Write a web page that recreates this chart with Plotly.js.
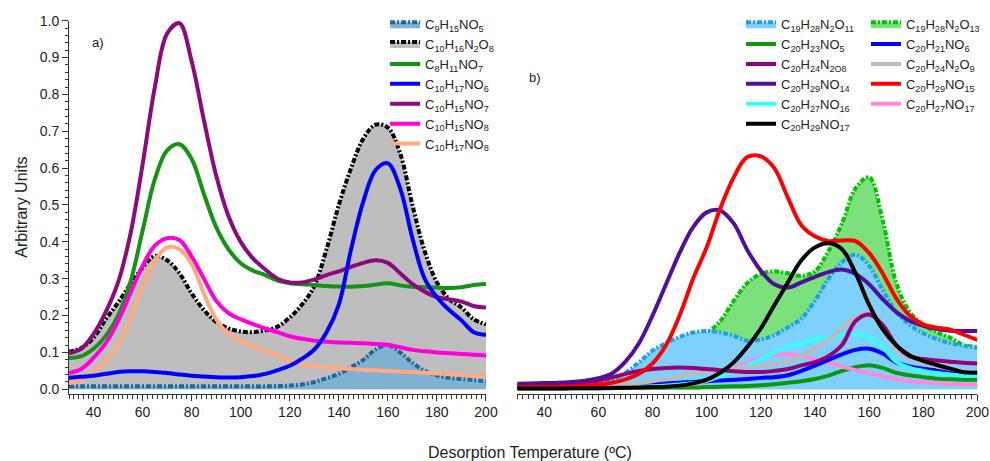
<!DOCTYPE html>
<html>
<head>
<meta charset="utf-8">
<script src="https://cdn.plot.ly/plotly-3.0.1.min.js"></script>
<style>html,body{margin:0;padding:0;background:#fff}#chart{width:990px;height:461px}</style>
</head>
<body>
<div id="chart"></div>
<script>
// Desorption temperature grid (ºC)
const temps = [30,35,40,45,50,55,60,65,70,75,80,85,90,95,100,105,110,115,120,125,130,135,140,145,150,155,160,165,170,175,180,185,190,195,200];

// ---- Panel a) ----
const a_C9H15NO5   = [0.008,0.008,0.008,0.008,0.008,0.008,0.008,0.008,0.008,0.008,0.008,0.008,0.008,0.008,0.008,0.008,0.008,0.009,0.010,0.013,0.020,0.030,0.042,0.060,0.080,0.108,0.120,0.100,0.072,0.050,0.038,0.031,0.028,0.025,0.022];
const a_C10H16N2O8 = [0.102,0.112,0.140,0.190,0.235,0.285,0.330,0.362,0.350,0.315,0.260,0.215,0.183,0.165,0.157,0.155,0.160,0.170,0.195,0.230,0.280,0.380,0.500,0.600,0.680,0.718,0.710,0.640,0.500,0.375,0.290,0.245,0.222,0.190,0.176];
const a_C8H11NO7   = [0.085,0.090,0.110,0.145,0.200,0.290,0.430,0.570,0.648,0.665,0.625,0.530,0.440,0.380,0.342,0.322,0.310,0.295,0.288,0.285,0.283,0.280,0.279,0.278,0.280,0.284,0.288,0.282,0.278,0.277,0.276,0.275,0.277,0.283,0.286];
const a_C10H17NO6  = [0.031,0.034,0.037,0.042,0.047,0.049,0.049,0.047,0.044,0.040,0.037,0.035,0.033,0.032,0.033,0.036,0.042,0.052,0.064,0.083,0.108,0.155,0.230,0.380,0.510,0.595,0.613,0.545,0.410,0.300,0.250,0.215,0.187,0.155,0.148];
const a_C10H15NO7  = [0.098,0.110,0.150,0.210,0.290,0.420,0.610,0.820,0.965,0.993,0.890,0.730,0.580,0.470,0.400,0.355,0.325,0.300,0.290,0.290,0.298,0.310,0.320,0.332,0.343,0.350,0.343,0.315,0.286,0.265,0.250,0.244,0.238,0.226,0.222];
const a_C10H15NO8  = [0.044,0.055,0.085,0.125,0.185,0.260,0.335,0.390,0.410,0.405,0.360,0.300,0.240,0.207,0.190,0.177,0.165,0.155,0.144,0.137,0.132,0.129,0.127,0.126,0.125,0.123,0.121,0.114,0.107,0.103,0.100,0.098,0.096,0.094,0.092];
const a_C10H17NO8  = [0.017,0.025,0.048,0.078,0.120,0.190,0.280,0.350,0.385,0.380,0.340,0.260,0.190,0.150,0.130,0.117,0.104,0.092,0.077,0.068,0.063,0.060,0.057,0.055,0.053,0.051,0.050,0.048,0.047,0.045,0.043,0.041,0.039,0.037,0.036];

// ---- Panel b) ----
const b_C19H28N2O11 = [0.010,0.010,0.011,0.012,0.014,0.017,0.020,0.026,0.045,0.073,0.105,0.125,0.142,0.154,0.158,0.154,0.145,0.132,0.135,0.147,0.168,0.192,0.240,0.300,0.345,0.365,0.335,0.270,0.210,0.175,0.152,0.137,0.125,0.118,0.113];
const b_C19H28N2O13 = [0.010,0.010,0.011,0.012,0.013,0.015,0.018,0.022,0.030,0.045,0.065,0.090,0.115,0.135,0.152,0.185,0.240,0.288,0.313,0.320,0.315,0.308,0.320,0.375,0.450,0.545,0.575,0.460,0.290,0.210,0.175,0.155,0.140,0.120,0.115];
const b_C20H23NO5   = [0.002,0.002,0.002,0.002,0.003,0.003,0.003,0.003,0.004,0.004,0.004,0.005,0.005,0.005,0.006,0.007,0.008,0.009,0.011,0.014,0.018,0.022,0.028,0.037,0.050,0.060,0.065,0.058,0.045,0.038,0.033,0.029,0.027,0.026,0.026];
const b_C20H21NO6   = [0.004,0.004,0.004,0.005,0.005,0.006,0.008,0.010,0.011,0.013,0.014,0.016,0.018,0.020,0.022,0.024,0.026,0.028,0.031,0.033,0.038,0.050,0.064,0.080,0.095,0.107,0.110,0.097,0.073,0.062,0.056,0.052,0.049,0.046,0.045];
const b_C20H24N2O8  = [0.008,0.009,0.010,0.011,0.013,0.017,0.024,0.032,0.042,0.050,0.055,0.058,0.059,0.058,0.055,0.052,0.049,0.047,0.047,0.050,0.055,0.065,0.074,0.090,0.120,0.185,0.203,0.175,0.120,0.090,0.082,0.078,0.075,0.072,0.070];
const b_C20H24N2O9  = [0.005,0.006,0.007,0.008,0.009,0.010,0.011,0.012,0.013,0.017,0.022,0.028,0.036,0.043,0.048,0.052,0.056,0.060,0.063,0.068,0.076,0.090,0.110,0.135,0.165,0.195,0.205,0.165,0.110,0.085,0.072,0.062,0.055,0.049,0.045];
const b_C20H29NO14  = [0.015,0.016,0.017,0.018,0.020,0.023,0.030,0.043,0.075,0.125,0.200,0.285,0.370,0.440,0.480,0.485,0.450,0.378,0.322,0.285,0.276,0.290,0.305,0.318,0.325,0.313,0.285,0.245,0.210,0.186,0.172,0.164,0.159,0.158,0.158];
const b_C20H29NO15  = [0.005,0.006,0.006,0.007,0.008,0.010,0.013,0.018,0.027,0.042,0.070,0.120,0.200,0.300,0.385,0.490,0.575,0.630,0.632,0.600,0.520,0.445,0.415,0.402,0.404,0.402,0.370,0.315,0.247,0.200,0.176,0.167,0.162,0.148,0.134];
const b_C20H27NO16  = [0.004,0.004,0.004,0.005,0.005,0.005,0.006,0.006,0.007,0.007,0.008,0.010,0.013,0.017,0.023,0.035,0.050,0.065,0.083,0.100,0.115,0.125,0.136,0.143,0.148,0.148,0.142,0.115,0.075,0.058,0.050,0.044,0.040,0.037,0.036];
const b_C20H27NO17  = [0.005,0.005,0.005,0.005,0.005,0.005,0.006,0.006,0.006,0.007,0.008,0.010,0.012,0.015,0.020,0.033,0.055,0.073,0.087,0.094,0.095,0.090,0.081,0.072,0.062,0.052,0.044,0.035,0.028,0.022,0.019,0.017,0.015,0.014,0.014];
const b_C20H29NO17  = [0.002,0.002,0.002,0.002,0.003,0.003,0.003,0.004,0.004,0.005,0.006,0.007,0.010,0.016,0.026,0.045,0.073,0.115,0.165,0.228,0.290,0.350,0.385,0.396,0.380,0.315,0.230,0.163,0.120,0.092,0.077,0.066,0.056,0.046,0.045];

const FONT = 'Liberation Sans, Arial, sans-serif';
const W = 4;
const DASHDOT = '5px,2px,2px,2px';

function line(y, name, color, xa, ya, lg, rank) {
  return {x: temps, y: y, name: name, type: 'scatter', mode: 'lines',
    line: {color: color, width: W, shape: 'spline', smoothing: 1},
    xaxis: xa, yaxis: ya, legend: lg, legendrank: rank, hoverinfo: 'skip'};
}
function area(y, name, lineColor, fillColor, xa, ya, lg, rank) {
  return {x: temps, y: y, name: name, type: 'scatter', mode: 'lines', fill: 'tozeroy',
    fillcolor: fillColor,
    line: {color: lineColor, width: W, shape: 'spline', smoothing: 1, dash: DASHDOT},
    xaxis: xa, yaxis: ya, legend: lg, legendrank: rank, hoverinfo: 'skip'};
}

const traces = [
  // panel a
  area(a_C10H16N2O8, 'C<sub>10</sub>H<sub>16</sub>N<sub>2</sub>O<sub>8</sub>', '#000000', '#bebebe', 'x', 'y', 'legend', 2),
  area(a_C9H15NO5, 'C<sub>9</sub>H<sub>15</sub>NO<sub>5</sub>', '#1c6a9a', '#7fb1d0', 'x', 'y', 'legend', 1),
  line(a_C8H11NO7, 'C<sub>8</sub>H<sub>11</sub>NO<sub>7</sub>', '#149414', 'x', 'y', 'legend', 3),
  line(a_C10H15NO7, 'C<sub>10</sub>H<sub>15</sub>NO<sub>7</sub>', '#8c0a7e', 'x', 'y', 'legend', 5),
  line(a_C10H15NO8, 'C<sub>10</sub>H<sub>15</sub>NO<sub>8</sub>', '#ff00dc', 'x', 'y', 'legend', 6),
  line(a_C10H17NO8, 'C<sub>10</sub>H<sub>17</sub>NO<sub>8</sub>', '#ffaa80', 'x', 'y', 'legend', 7),
  line(a_C10H17NO6, 'C<sub>10</sub>H<sub>17</sub>NO<sub>6</sub>', '#0000ff', 'x', 'y', 'legend', 4),
  // panel b
  area(b_C19H28N2O13, 'C<sub>19</sub>H<sub>28</sub>N<sub>2</sub>O<sub>13</sub>', '#00c400', '#7ce07c', 'x2', 'y2', 'legend3', 1),
  area(b_C19H28N2O11, 'C<sub>19</sub>H<sub>28</sub>N<sub>2</sub>O<sub>11</sub>', '#1aa0ee', '#80d0fc', 'x2', 'y2', 'legend2', 1),
  line(b_C20H23NO5, 'C<sub>20</sub>H<sub>23</sub>NO<sub>5</sub>', '#0f960f', 'x2', 'y2', 'legend2', 2),
  line(b_C20H27NO17, 'C<sub>20</sub>H<sub>27</sub>NO<sub>17</sub>', '#ff88dd', 'x2', 'y2', 'legend3', 5),
  line(b_C20H21NO6, 'C<sub>20</sub>H<sub>21</sub>NO<sub>6</sub>', '#0000ff', 'x2', 'y2', 'legend3', 2),
  line(b_C20H27NO16, 'C<sub>20</sub>H<sub>27</sub>NO<sub>16</sub>', '#33ffff', 'x2', 'y2', 'legend2', 5),
  line(b_C20H24N2O9, 'C<sub>20</sub>H<sub>24</sub>N<sub>2</sub>O<sub>9</sub>', '#bbbbbb', 'x2', 'y2', 'legend3', 3),
  line(b_C20H24N2O8, 'C<sub>20</sub>H<sub>24</sub>N<sub>2O8</sub>', '#960078', 'x2', 'y2', 'legend2', 3),
  line(b_C20H29NO14, 'C<sub>20</sub>H<sub>29</sub>NO<sub>14</sub>', '#50109c', 'x2', 'y2', 'legend2', 4),
  line(b_C20H29NO15, 'C<sub>20</sub>H<sub>29</sub>NO<sub>15</sub>', '#ff0000', 'x2', 'y2', 'legend3', 4),
  line(b_C20H29NO17, 'C<sub>20</sub>H<sub>29</sub>NO<sub>17</sub>', '#000000', 'x2', 'y2', 'legend2', 6)
];

const xTicks = [40,60,80,100,120,140,160,180,200];
const yTicks = [0,0.1,0.2,0.3,0.4,0.5,0.6,0.7,0.8,0.9,1.0];

function xaxis(domain) {
  return {domain: domain, range: [30, 200], tickmode: 'array', tickvals: xTicks,
    ticks: 'outside', ticklen: 6, tickwidth: 1, tickcolor: '#333', showline: true,
    linecolor: '#333', linewidth: 1, showgrid: false, zeroline: false,
    tickfont: {family: FONT, size: 14, color: '#222'},
    minor: {dtick: 2, tick0: 30, ticks: 'outside', ticklen: 4, tickcolor: '#333', showgrid: false}};
}
const legendBase = {bgcolor: 'rgba(0,0,0,0)', yanchor: 'top', y: 0.98, xanchor: 'left',
  font: {family: FONT, size: 13, color: '#222'}, traceorder: 'normal'};

const layout = {
  width: 990, height: 461,
  margin: {l: 0, r: 0, t: 0, b: 0},
  paper_bgcolor: '#ffffff', plot_bgcolor: 'rgba(0,0,0,0)',
  font: {family: FONT, color: '#222'},
  showlegend: true,
  xaxis: xaxis([0.0697, 0.4909]),
  xaxis2: Object.assign(xaxis([0.5224, 0.9872]), {anchor: 'y2'}),
  yaxis: {domain: [0.1464, 0.9551], range: [-0.0114, 1.0], tickmode: 'array', tickvals: yTicks,
    tickformat: '.1f', ticks: 'outside', ticklen: 6, tickcolor: '#333', showline: true,
    linecolor: '#333', showgrid: false, zeroline: false,
    tickfont: {family: FONT, size: 14, color: '#222'},
    minor: {dtick: 0.02, tick0: 0, ticks: 'outside', ticklen: 3, tickcolor: '#333', showgrid: false},
    title: {text: 'Arbitrary Units', font: {family: FONT, size: 16, color: '#222'}}},
  yaxis2: {domain: [0.1464, 0.9551], range: [-0.0114, 1.0], anchor: 'x2', visible: false},
  legend: Object.assign({}, legendBase, {x: 0.389}),
  legend2: Object.assign({}, legendBase, {x: 0.7485}),
  legend3: Object.assign({}, legendBase, {x: 0.8747}),
  annotations: [
    {text: 'a)', xref: 'paper', yref: 'paper', x: 98/990, y: 1 - 42/461, xanchor: 'center', yanchor: 'middle',
     showarrow: false, font: {family: FONT, size: 13, color: '#222'}},
    {text: 'b)', xref: 'paper', yref: 'paper', x: 535/990, y: 1 - 77/461, xanchor: 'center', yanchor: 'middle',
     showarrow: false, font: {family: FONT, size: 13, color: '#222'}},
    {text: 'Desorption Temperature (ºC)', xref: 'paper', yref: 'paper', x: 530/990, y: 1 - 452/461,
     xanchor: 'center', yanchor: 'middle',
     showarrow: false, font: {family: FONT, size: 16, color: '#222'}}
  ]
};

Plotly.newPlot('chart', traces, layout, {staticPlot: true, displayModeBar: false});
</script>
</body>
</html>
